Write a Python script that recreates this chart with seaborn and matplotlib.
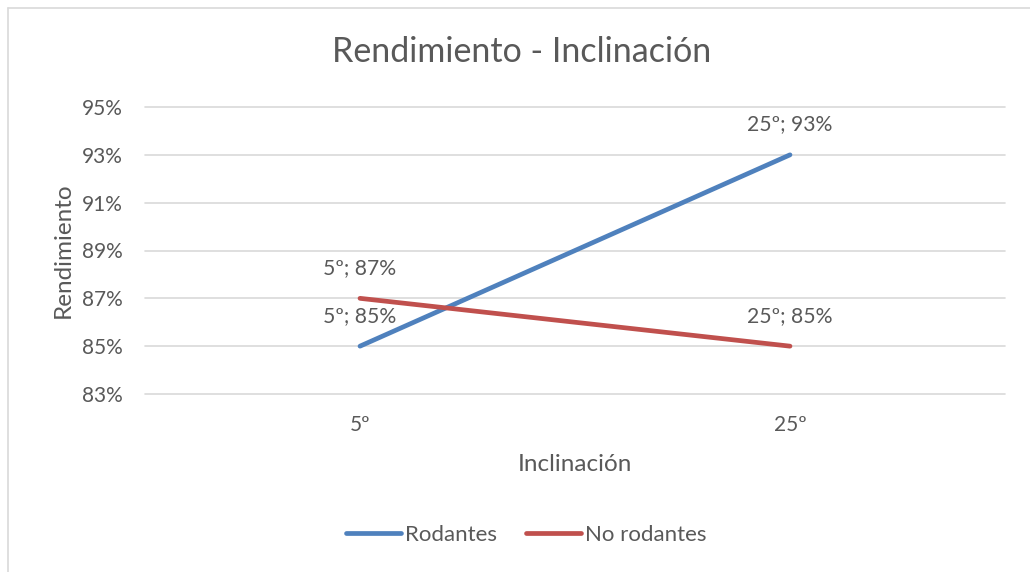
import matplotlib
matplotlib.use("Agg")
import matplotlib.pyplot as plt
import seaborn as sns
import pandas as pd
from matplotlib.lines import Line2D

categories = ["5º", "25º"]
series_names = ["Rodantes", "No rodantes"]
rodantes = [0.85, 0.93]
no_rodantes = [0.87, 0.85]
yticks = [0.83, 0.85, 0.87, 0.89, 0.91, 0.93, 0.95]
colors = ["#4F81BD", "#C0504D"]

sns.set_theme(style="white")
plt.rcParams['font.family'] = ['Lato', 'DejaVu Sans']
TXT = "#595959"

df = pd.DataFrame({
    "Inclinación": categories * 2,
    "Rendimiento": rodantes + no_rodantes,
    "Serie": [series_names[0]] * 2 + [series_names[1]] * 2,
})

fig = plt.figure(figsize=(10.3, 5.72), dpi=100)
ax = fig.add_axes([145/1030, 1-394/572, 860/1030, 287/572])

sns.lineplot(data=df, x="Inclinación", y="Rendimiento", hue="Serie",
             palette=colors, linewidth=3.4, ax=ax, legend=False, sort=False,
             solid_capstyle="round")

ax.set_xlim(-0.5, 1.5)
ax.set_ylim(0.83, 0.95)
ax.set_yticks(yticks)
ax.set_yticklabels([f"{round(v*100)}%" for v in yticks], color=TXT, fontsize=15)
ax.set_xticks(range(len(categories)))
ax.set_xticklabels(categories, color=TXT, fontsize=15)
ax.tick_params(axis="both", length=0)
ax.tick_params(axis="x", pad=15)
ax.tick_params(axis="y", pad=16)
ax.grid(axis="y", color="#D9D9D9", linewidth=1.2)
for gl in ax.get_ygridlines():
    gl.set_clip_on(False)
ax.set_axisbelow(True)
for s in ax.spines.values():
    s.set_visible(False)

ax.set_xlabel("Inclinación", color=TXT, fontsize=17.5, labelpad=14)
ax.set_ylabel("Rendimiento", color=TXT, fontsize=17.5, labelpad=6)

for vals in (rodantes, no_rodantes):
    for i, v in enumerate(vals):
        ax.annotate(f"{categories[i]}; {round(v*100)}%", (i, v),
                    xytext=(0, 22), textcoords="offset points",
                    ha="center", va="center", color=TXT, fontsize=15.2)

fig.text(522/1030, 1-52/572, "Rendimiento - Inclinación", ha="center", va="center",
         color=TXT, fontsize=24.5)

handles = [Line2D([], [], color=c, linewidth=3.4, solid_capstyle="round") for c in colors]
fig.legend(handles, series_names, loc="center", bbox_to_anchor=(526/1030, 1-535/572),
           ncol=2, frameon=False, fontsize=16, labelcolor=TXT,
           handlelength=2.5, handletextpad=0.15, columnspacing=1.3)

# outer chart border (left and top visible)
fig.add_artist(Line2D([7.5/1030, 7.5/1030], [0, 1-8/572], color="#D9D9D9", linewidth=1.2, transform=fig.transFigure))
fig.add_artist(Line2D([7.5/1030, 1], [1-8/572, 1-8/572], color="#D9D9D9", linewidth=1.2, transform=fig.transFigure))

fig.savefig("out.png", dpi=100, facecolor="white")
